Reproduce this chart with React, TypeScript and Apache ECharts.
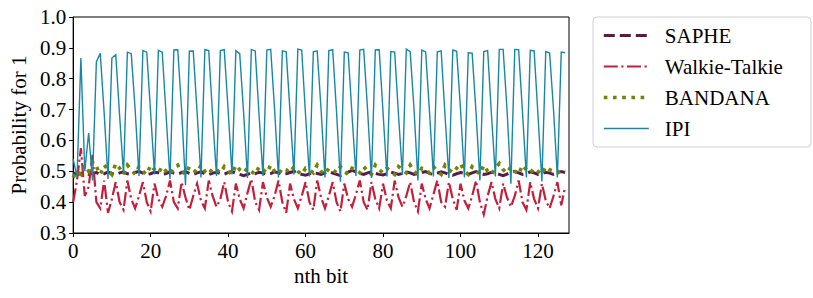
import React, { useEffect, useRef } from "react";
import * as echarts from "echarts";

const seriesNames = ["SAPHE", "Walkie-Talkie", "BANDANA", "IPI"];
const xTicks = [0, 20, 40, 60, 80, 100, 120];

const saphe = [
  0.495, 0.49, 0.493, 0.497, 0.49, 0.494, 0.496, 0.49, 0.492, 0.497, 0.493, 0.49, 0.495, 0.498, 0.492, 0.49,
  0.496, 0.5, 0.494, 0.49, 0.492, 0.497, 0.495, 0.49, 0.493, 0.498, 0.494, 0.491, 0.496, 0.499, 0.493, 0.49,
  0.495, 0.498, 0.492, 0.489, 0.494, 0.497, 0.493, 0.49, 0.496, 0.499, 0.494, 0.49, 0.486, 0.49, 0.495, 0.492,
  0.497, 0.494, 0.49, 0.493, 0.498, 0.495, 0.49, 0.492, 0.496, 0.5, 0.494, 0.49, 0.487, 0.492, 0.496, 0.493,
  0.49, 0.495, 0.499, 0.494, 0.49, 0.486, 0.492, 0.497, 0.503, 0.498, 0.493, 0.49, 0.495, 0.498, 0.493, 0.49,
  0.488, 0.492, 0.497, 0.494, 0.49, 0.493, 0.498, 0.495, 0.49, 0.492, 0.496, 0.499, 0.493, 0.49, 0.494, 0.498,
  0.495, 0.49, 0.487, 0.492, 0.496, 0.493, 0.49, 0.495, 0.499, 0.494, 0.49, 0.492, 0.497, 0.494, 0.49, 0.486,
  0.491, 0.496, 0.5, 0.495, 0.49, 0.493, 0.498, 0.495, 0.49, 0.492, 0.497, 0.494, 0.49, 0.495, 0.499, 0.496,
];

const walkieTalkie = [
  0.4, 0.47, 0.575, 0.42, 0.45, 0.553, 0.4, 0.38, 0.47, 0.365, 0.41, 0.465, 0.4, 0.375, 0.47, 0.41,
  0.38, 0.42, 0.465, 0.4, 0.37, 0.46, 0.41, 0.385, 0.42, 0.47, 0.4, 0.38, 0.465, 0.415, 0.375, 0.42,
  0.46, 0.405, 0.38, 0.47, 0.42, 0.385, 0.41, 0.465, 0.4, 0.37, 0.46, 0.41, 0.38, 0.43, 0.475, 0.4,
  0.375, 0.465, 0.415, 0.385, 0.42, 0.47, 0.4, 0.365, 0.46, 0.41, 0.38, 0.42, 0.465, 0.4, 0.375, 0.47,
  0.415, 0.38, 0.42, 0.465, 0.4, 0.37, 0.46, 0.41, 0.385, 0.425, 0.47, 0.4, 0.375, 0.465, 0.41, 0.38,
  0.46, 0.405, 0.38, 0.47, 0.415, 0.385, 0.42, 0.465, 0.4, 0.37, 0.46, 0.41, 0.38, 0.425, 0.47, 0.4,
  0.385, 0.465, 0.41, 0.375, 0.46, 0.405, 0.38, 0.42, 0.47, 0.4, 0.36, 0.42, 0.465, 0.41, 0.38, 0.46,
  0.415, 0.385, 0.42, 0.47, 0.4, 0.375, 0.465, 0.41, 0.38, 0.46, 0.405, 0.38, 0.42, 0.465, 0.39, 0.45,
];

const bandana = [
  0.48, 0.5, 0.49, 0.52, 0.5, 0.53, 0.515, 0.49, 0.52, 0.505, 0.49, 0.525, 0.51, 0.49, 0.52, 0.505,
  0.49, 0.515, 0.5, 0.49, 0.52, 0.505, 0.495, 0.515, 0.5, 0.49, 0.51, 0.52, 0.5, 0.49, 0.515, 0.505,
  0.495, 0.52, 0.5, 0.49, 0.51, 0.505, 0.495, 0.515, 0.5, 0.49, 0.52, 0.505, 0.495, 0.51, 0.5, 0.49,
  0.515, 0.505, 0.495, 0.52, 0.5, 0.49, 0.51, 0.505, 0.495, 0.515, 0.5, 0.49, 0.51, 0.505, 0.495, 0.52,
  0.5, 0.49, 0.51, 0.505, 0.495, 0.515, 0.5, 0.49, 0.51, 0.505, 0.495, 0.515, 0.5, 0.49, 0.52, 0.505,
  0.495, 0.51, 0.5, 0.49, 0.515, 0.505, 0.495, 0.52, 0.5, 0.49, 0.51, 0.505, 0.495, 0.515, 0.5, 0.49,
  0.52, 0.505, 0.495, 0.51, 0.525, 0.5, 0.49, 0.515, 0.505, 0.49, 0.52, 0.5, 0.49, 0.51, 0.525, 0.505,
  0.495, 0.515, 0.5, 0.49, 0.52, 0.505, 0.495, 0.51, 0.5, 0.49, 0.515, 0.505, 0.5, 0.495, 0.505, 0.5,
];

const ipi = [
  0.54, 0.48, 0.867, 0.5, 0.624, 0.47, 0.855, 0.882, 0.69, 0.475, 0.867, 0.878, 0.68, 0.49, 0.886, 0.881,
  0.7, 0.485, 0.891, 0.886, 0.69, 0.49, 0.892, 0.886, 0.68, 0.475, 0.893, 0.894, 0.7, 0.455, 0.889, 0.89,
  0.69, 0.48, 0.894, 0.891, 0.68, 0.485, 0.891, 0.894, 0.7, 0.49, 0.891, 0.881, 0.69, 0.478, 0.895, 0.89,
  0.68, 0.485, 0.893, 0.895, 0.7, 0.48, 0.89, 0.887, 0.69, 0.49, 0.896, 0.893, 0.68, 0.483, 0.888, 0.89,
  0.7, 0.48, 0.891, 0.894, 0.69, 0.466, 0.886, 0.884, 0.68, 0.485, 0.893, 0.895, 0.7, 0.478, 0.893, 0.894,
  0.69, 0.483, 0.888, 0.886, 0.68, 0.488, 0.896, 0.888, 0.7, 0.47, 0.893, 0.887, 0.69, 0.483, 0.887, 0.89,
  0.68, 0.478, 0.893, 0.889, 0.7, 0.48, 0.884, 0.883, 0.69, 0.47, 0.888, 0.891, 0.68, 0.483, 0.895, 0.895,
  0.7, 0.46, 0.895, 0.894, 0.69, 0.48, 0.892, 0.89, 0.68, 0.467, 0.888, 0.883, 0.7, 0.48, 0.886, 0.884,
];

const FONT = "Liberation Serif";
const FS = 21;

const toPairs = (arr: number[]) => arr.map((v, i) => [i, v]);

export default function App() {
  const ref = useRef<HTMLDivElement>(null);
  useEffect(() => {
    if (!ref.current) return;
    const chart = echarts.init(ref.current, undefined, { renderer: "svg" });
    const colors = ["#5a1a4d", "#c41e3a", "#6f8700", "#1787a6"];
    const styles: any[] = [
      { width: 3, type: [11, 5] },
      { width: 2.2, type: [14, 3.5, 2.2, 3.5] },
      { width: 3.6, type: [3.6, 5.6] },
      { width: 1.4, type: "solid" },
    ];
    const datas = [saphe, walkieTalkie, bandana, ipi];
    chart.setOption({
      animation: false,
      grid: {
        left: 72,
        top: 17,
        width: 497,
        height: 216,
        show: true,
        borderColor: "#000",
        borderWidth: 1,
        backgroundColor: "transparent",
      },
      legend: {
        data: seriesNames,
        orient: "vertical",
        left: 593,
        top: 17,
        padding: [8, 28, 8, 9],
        itemWidth: 45,
        itemHeight: 14,
        itemGap: 10,
        borderColor: "#d0d0d0",
        borderWidth: 1,
        borderRadius: 4,
        backgroundColor: "#fff",
        itemStyle: { opacity: 0 },
        lineStyle: { width: "inherit", type: "inherit", cap: "butt" },
        textStyle: { fontFamily: FONT, fontSize: FS, color: "#000", padding: [0, 0, 0, 11] },
      },
      xAxis: {
        type: "value",
        min: 0,
        max: 128,
        interval: 20,
        name: "nth bit",
        nameLocation: "middle",
        nameGap: 31,
        nameTextStyle: { fontFamily: FONT, fontSize: FS, color: "#000" },
        axisLine: { show: true, lineStyle: { color: "#000", width: 1 } },
        axisTick: { show: true, length: 4, lineStyle: { color: "#000" } },
        splitLine: { show: false },
        axisLabel: {
          fontFamily: FONT,
          fontSize: FS,
          color: "#000",
          margin: 7,
          showMaxLabel: false,
          formatter: (v: number) => (xTicks.includes(v) ? String(v) : ""),
        },
      },
      yAxis: {
        type: "value",
        min: 0.3,
        max: 1.0,
        interval: 0.1,
        name: "Probability for 1",
        nameLocation: "middle",
        nameRotate: 90,
        nameGap: 44,
        nameTextStyle: { fontFamily: FONT, fontSize: FS, color: "#000" },
        axisLine: { show: true, lineStyle: { color: "#000", width: 1 } },
        axisTick: { show: true, length: 4, lineStyle: { color: "#000" } },
        splitLine: { show: false },
        axisLabel: {
          fontFamily: FONT,
          fontSize: FS,
          color: "#000",
          margin: 7,
          formatter: (v: number) => v.toFixed(1),
        },
      },
      series: seriesNames.map((name, i) => ({
        name,
        type: "line",
        data: toPairs(datas[i]),
        symbol: "none",
        showSymbol: false,
        color: colors[i],
        lineStyle: { color: colors[i], cap: "butt", join: "miter", ...styles[i] },
        z: 2 + i,
      })),
    });
    return () => chart.dispose();
  }, []);
  return (
    <div
      ref={ref}
      style={{ position: "fixed", left: 0, top: 0, width: 813, height: 298, background: "#fff" }}
    />
  );
}
